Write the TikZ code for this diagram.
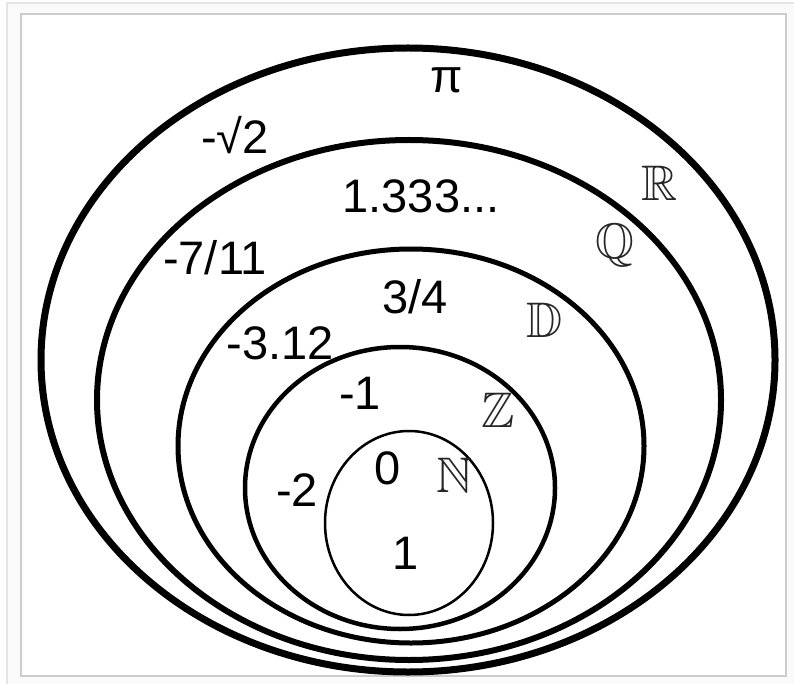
\documentclass[tikz,border=0pt]{standalone}
\usepackage{amssymb}
\usepackage{fontspec}
\setmainfont{Liberation Sans}
\begin{document}
\begin{tikzpicture}[x=1pt,y=-1pt,
  lbl/.style={font=\fontsize{47}{56}\selectfont, inner sep=0pt},
  bb/.style={font=\fontsize{50}{58}\selectfont, text=black!85, inner sep=0pt},
  setline/.style={draw=black}]
\useasboundingbox (0,0) rectangle (794,684);
\fill[white] (0,0) rectangle (794,684);
% frames
\draw[draw=black!10, line width=1.5] (7,3) rectangle (800,690);
\fill[black!2] (7.75,3.75) rectangle (800,690);
\fill[white] (21,14) rectangle (786,676);
\draw[draw=black!20, line width=1.5] (21,14) rectangle (786,676);
% sets
\coordinate (cR) at (408,360);
\coordinate (cQ) at (409,400);
\coordinate (cD) at (411,446);
\coordinate (cZ) at (400,488);
\coordinate (cN) at (409,523);
\draw[setline, line width=7] (cR) ellipse [x radius=367, y radius=312];
\draw[setline, line width=6] (cQ) ellipse [x radius=312, y radius=260];
\draw[setline, line width=5] (cD) ellipse [x radius=233, y radius=197];
\draw[setline, line width=4.5] (cZ) ellipse [x radius=155, y radius=141];
\draw[setline, line width=2.5] (cN) ellipse [x radius=84, y radius=92];
% labels
\node[lbl] (pi) at (447,80) {π};
\node[lbl] (sq2) at (235,135) {-√2};
\node[lbl] (q133) at (421,196) {1.333...};
\node[bb] (R) at (660,183) {$\mathbb{R}$};
\node[bb] (Q) at (615,245) {$\mathbb{Q}$};
\node[lbl] (q711) at (215,258) {-7/11};
\node[lbl] (q34) at (415,297) {3/4};
\node[bb] (D) at (545,320) {$\mathbb{D}$};
\node[lbl] (d312) at (280,343) {-3.12};
\node[lbl] (zm1) at (360,393) {-1};
\node[bb] (Z) at (498,410) {$\mathbb{Z}$};
\node[lbl] (zm2) at (297,490) {-2};
\node[lbl] (n0) at (388,468) {0};
\node[bb] (N) at (455,475) {$\mathbb{N}$};
\node[lbl] (n1) at (406,553) {1};
\end{tikzpicture}
\end{document}
